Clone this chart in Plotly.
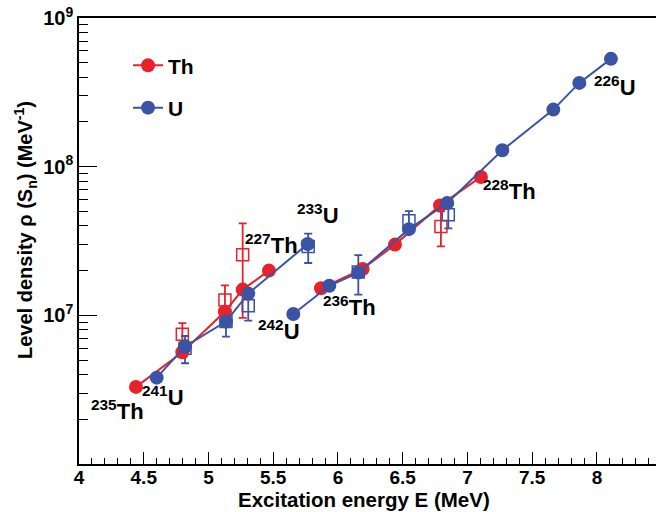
import math
import plotly.graph_objects as go

RED = "#e8212b"
BLUE = "#3a53a4"

# Th chains (filled circles, model)
th_odd_x = [4.44, 4.798, 5.127, 5.264, 5.467]
th_odd_y = [3.3e6, 5.65e6, 1.06e7, 1.49e7, 2.0e7]
th_even_x = [5.869, 6.19, 6.44, 6.788, 7.104]
th_even_y = [1.52e7, 2.05e7, 2.99e7, 5.49e7, 8.53e7]

# U chains
u_odd_x = [4.60, 4.819, 5.135, 5.307, 5.766]
u_odd_y = [3.81e6, 6.17e6, 9.08e6, 1.40e7, 3.02e7]
u_even_x = [5.655, 5.933, 6.157, 6.548, 6.844, 7.269, 7.663, 7.864, 8.108]
u_even_y = [1.02e7, 1.58e7, 1.94e7, 3.8e7, 5.69e7, 1.29e8, 2.42e8, 3.66e8, 5.31e8]

# experimental (open squares)
th_exp_x = [4.798, 5.127, 5.264, 6.795]
th_exp_y = [7.47e6, 1.27e7, 2.56e7, 3.96e7]
th_exp_err = [1.4e6, 3.2e6, 1.6e7, 1.05e7]

u_exp_x = [4.819, 5.135, 5.307, 5.77, 6.157, 6.548, 6.852]
u_exp_y = [6.01e6, 9.08e6, 1.16e7, 2.9e7, 1.96e7, 4.33e7, 4.75e7]
u_exp_err = [1.25e6, 1.9e6, 2.4e6, 6.5e6, 5.8e6, 7e6, 9e6]

# isotope labels: (text, x, y, xshift, yshift)
labels = [
    ("<sup>235</sup>Th", th_odd_x[0], th_odd_y[0], -18, -23),
    ("<sup>241</sup>U", u_odd_x[0], u_odd_y[0], 6, -18),
    ("<sup>227</sup>Th", th_odd_x[-1], th_odd_y[-1], 3, 27),
    ("<sup>233</sup>U", u_odd_x[-1], u_odd_y[-1], 10, 30),
    ("<sup>242</sup>U", u_even_x[0], u_even_y[0], -14, -16),
    ("<sup>236</sup>Th", th_even_x[0], th_even_y[0], 28, -18),
    ("<sup>228</sup>Th", th_even_x[-1], th_even_y[-1], 29, -13),
    ("<sup>226</sup>U", u_even_x[-1], u_even_y[-1], 4, -27),
]

xtickvals = [4, 4.5, 5, 5.5, 6, 6.5, 7, 7.5, 8]
xticktext = ["4", "4.5", "5", "5.5", "6", "6.5", "7", "7.5", "8"]
ytickvals = [1e7, 1e8, 1e9]
yticktext = ["10<sup>7</sup>", "10<sup>8</sup>", "10<sup>9</sup>"]
yminor = [k * 10 ** n for n in (6, 7, 8) for k in range(2, 10)]

FONT = "Liberation Sans, Arial, sans-serif"

fig = go.Figure()

def sq(x, y, e, color):
    fig.add_trace(go.Scatter(
        x=x, y=y, mode="markers", showlegend=False,
        marker=dict(symbol="square-open", size=12, color=color, line=dict(width=1.5, color=color)),
        error_y=dict(type="data", array=e, visible=True, color=color, thickness=1.8, width=4),
        hoverinfo="skip"))

sq(th_exp_x, th_exp_y, th_exp_err, RED)
sq(u_exp_x, u_exp_y, u_exp_err, BLUE)

def chain(x, y, color, name, show, group):
    fig.add_trace(go.Scatter(
        x=x, y=y, mode="lines+markers", name=name, showlegend=show, legendgroup=group,
        line=dict(color=color, width=2),
        marker=dict(symbol="circle", size=14, color=color)))

chain(th_odd_x, th_odd_y, RED, "Th", True, "th")
chain(th_even_x, th_even_y, RED, "Th", False, "th")
chain(u_odd_x, u_odd_y, BLUE, "U", True, "u")
chain(u_even_x, u_even_y, BLUE, "U", False, "u")

for t, x, y, dx, dy in labels:
    fig.add_annotation(x=x, y=math.log10(y), xref="x", yref="y", text=t, showarrow=False,
                       xshift=dx, yshift=dy,
                       font=dict(family=FONT, size=22, color="black", weight="bold"))

# axis titles as annotations for tight placement
fig.add_annotation(x=0.5, y=0, xref="paper", yref="paper", xanchor="center", yanchor="top",
                   text="Excitation energy E (MeV)", showarrow=False, yshift=-22,
                   xshift=-4,
                   font=dict(family=FONT, size=20.5, color="black", weight="bold"))
fig.add_annotation(x=0, y=0.5, xref="paper", yref="paper", xanchor="center", yanchor="middle",
                   text="Level density ρ (S<sub>n</sub>) (MeV<sup>-1</sup>)", showarrow=False,
                   textangle=-90, xshift=-54, yshift=11,
                   font=dict(family=FONT, size=20, color="black", weight="bold"))

fig.update_layout(
    width=656, height=512,
    margin=dict(l=79, r=0, t=18, b=48, autoexpand=False),
    paper_bgcolor="white", plot_bgcolor="white",
    font=dict(family=FONT, color="black"),
    showlegend=True,
    legend=dict(x=0.085, y=0.939, xanchor="left", yanchor="top",
                bgcolor="rgba(0,0,0,0)", tracegroupgap=12,
                font=dict(family=FONT, size=21, weight="bold")),
    xaxis=dict(range=[4, 8.456], showline=True, linecolor="black", linewidth=1.5,
               mirror=True, showgrid=False, zeroline=False, automargin=False,
               ticks="inside", ticklen=12, tickwidth=1.2, tickcolor="black",
               tickmode="array", tickvals=xtickvals, ticktext=xticktext,
               ticklabelstandoff=-5, ticklabeloverflow="allow",
               minor=dict(ticks="inside", ticklen=6, tickwidth=1, tickcolor="black",
                          dtick=0.1, tick0=4, showgrid=False),
               tickfont=dict(size=19, weight="bold")),
    yaxis=dict(type="log", range=[6, 9], showline=True, linecolor="black", linewidth=1.5,
               showgrid=False, zeroline=False, automargin=False,
               ticks="inside", ticklen=18, tickwidth=1.2, tickcolor="black",
               tickmode="array", tickvals=ytickvals, ticktext=yticktext,
               ticklabeloverflow="allow",
               minor=dict(ticks="inside", ticklen=9, tickwidth=1, tickcolor="black",
                          tickmode="array", tickvals=yminor, showgrid=False),
               tickfont=dict(size=20, weight="bold")),
)

fig.write_html("out.html", post_script="document.body.style.margin='0';",
               config={"displayModeBar": False})
